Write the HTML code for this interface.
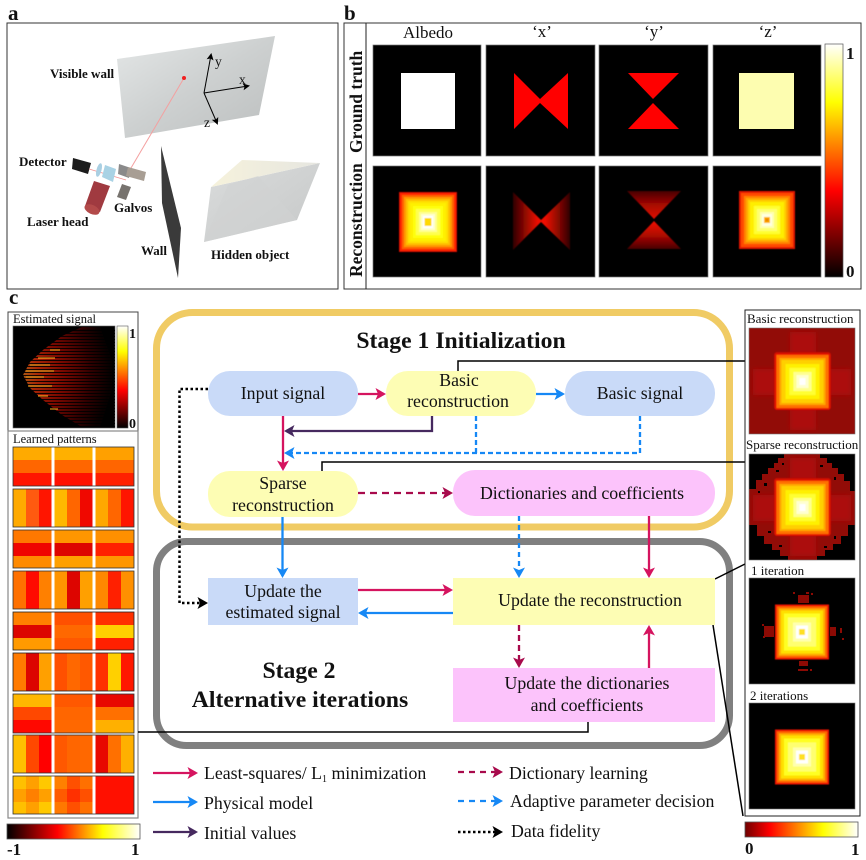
<!DOCTYPE html>
<html><head><meta charset="utf-8"><style>
html,body{margin:0;padding:0;background:#fff}
svg{display:block;filter:blur(.3px)}
text{font-family:"Liberation Serif",serif;fill:#111}
.b{font-weight:bold}
.a{font-weight:bold;font-size:13px}
.n{font-size:17.8px;text-anchor:middle}
.l{font-size:17.8px}
.s{font-size:12.5px}
.r{font-size:13px}
.t{font-weight:bold;font-size:23.7px;text-anchor:middle}
</style></head><body>
<svg width="866" height="860" viewBox="0 0 866 860" xmlns="http://www.w3.org/2000/svg">
<defs>
<filter id="bl" x="-20%" y="-20%" width="140%" height="140%"><feGaussianBlur stdDeviation=".6"/></filter>
<filter id="bl2" x="-20%" y="-20%" width="140%" height="140%"><feGaussianBlur stdDeviation="2.5"/></filter>
<linearGradient id="hotv" x1="0" y1="1" x2="0" y2="0"><stop offset="0" stop-color="#000"/><stop offset=".37" stop-color="#f00"/><stop offset=".75" stop-color="#ff0"/><stop offset="1" stop-color="#fff"/></linearGradient>
<linearGradient id="hotl" x1="0" y1="0" x2="1" y2="0"><stop offset="0" stop-color="#000"/><stop offset=".38" stop-color="#f00"/><stop offset=".72" stop-color="#ff0"/><stop offset="1" stop-color="#fff"/></linearGradient>
<linearGradient id="hotr" x1="0" y1="0" x2="1" y2="0"><stop offset="0" stop-color="#700000"/><stop offset=".22" stop-color="#f00"/><stop offset=".69" stop-color="#ff0"/><stop offset="1" stop-color="#fff"/></linearGradient>
<linearGradient id="wall" x1="0" y1="0" x2="1" y2="1"><stop offset="0" stop-color="#e4e7e7"/><stop offset=".5" stop-color="#cdd0d0"/><stop offset="1" stop-color="#bcbfbf"/></linearGradient>
<linearGradient id="hid" x1="0" y1="0" x2="1" y2="1"><stop offset="0" stop-color="#dadcdc"/><stop offset="1" stop-color="#c6c8c8"/></linearGradient>
<linearGradient id="crm" x1="0" y1="0" x2="1" y2="0"><stop offset="0" stop-color="#f6f2dc"/><stop offset="1" stop-color="#e6e6e0"/></linearGradient>
<radialGradient id="sig" gradientUnits="userSpaceOnUse" cx="15" cy="375" r="95"><stop offset="0" stop-color="#e09020"/><stop offset=".25" stop-color="#d83008"/><stop offset=".5" stop-color="#a00c00"/><stop offset=".8" stop-color="#400000"/><stop offset="1" stop-color="#0a0000"/></radialGradient>
<marker id="mr" markerUnits="userSpaceOnUse" markerWidth="15" markerHeight="15" refX="9.500" refY="7.500" orient="auto"><path d="M1,1.500L11.500,7.500L1,13.500L3.500,7.500z" fill="#d5145f"/></marker>
<marker id="mb" markerUnits="userSpaceOnUse" markerWidth="15" markerHeight="15" refX="9.500" refY="7.500" orient="auto"><path d="M1,1.500L11.500,7.500L1,13.500L3.500,7.500z" fill="#1688f5"/></marker>
<marker id="mp" markerUnits="userSpaceOnUse" markerWidth="15" markerHeight="15" refX="9.500" refY="7.500" orient="auto"><path d="M1,1.500L11.500,7.500L1,13.500L3.500,7.500z" fill="#46295f"/></marker>
<marker id="md" markerUnits="userSpaceOnUse" markerWidth="15" markerHeight="15" refX="9.500" refY="7.500" orient="auto"><path d="M1,1.500L11.500,7.500L1,13.500L3.500,7.500z" fill="#a80a4c"/></marker>
<marker id="mk" markerUnits="userSpaceOnUse" markerWidth="15" markerHeight="15" refX="9.500" refY="7.500" orient="auto"><path d="M1,1.500L11.500,7.500L1,13.500L3.500,7.500z" fill="#000"/></marker>
<marker id="ma" markerUnits="userSpaceOnUse" markerWidth="10" markerHeight="10" refX="6" refY="5" orient="auto"><path d="M1,1.500L8,5L1,8.500L2.500,5z" fill="#000"/></marker>
<g id="pyrA">
<rect x="-29" y="-30" width="58" height="60" fill="#d01000"/><rect x="-28" y="-29" width="56" height="58" fill="#ff2000"/>
<rect x="-26" y="-27" width="52" height="54" fill="#ff6000"/><rect x="-24" y="-25" width="48" height="50" fill="#ff9800"/>
<rect x="-22" y="-23" width="44" height="46" fill="#ffc000"/><rect x="-20" y="-21" width="40" height="42" fill="#ffe000"/>
<rect x="-18" y="-19" width="36" height="38" fill="#fff000"/><rect x="-15" y="-16" width="30" height="32" fill="#ffff10"/>
<rect x="-12" y="-13" width="24" height="26" fill="#ffff50"/><rect x="-9" y="-10" width="18" height="20" fill="#ffff90"/>
<rect x="-7" y="-8" width="14" height="16" fill="#ffffd0"/><rect x="-5" y="-6" width="10" height="12" fill="#fff"/>
<rect x="-3.500" y="-4" width="7" height="8" fill="#ffd800"/>
</g>
<g id="pyrB">
<rect x="-28" y="-29" width="56" height="58" fill="#e01800"/><rect x="-26" y="-27" width="52" height="54" fill="#ff4800"/>
<rect x="-23" y="-24" width="46" height="48" fill="#ff8000"/><rect x="-21" y="-22" width="42" height="44" fill="#ffa800"/>
<rect x="-19" y="-20" width="38" height="40" fill="#ffd000"/><rect x="-17" y="-18" width="34" height="36" fill="#ffee00"/>
<rect x="-13" y="-14" width="26" height="28" fill="#ffff30"/><rect x="-10" y="-11" width="20" height="22" fill="#ffff70"/>
<rect x="-7" y="-8" width="14" height="16" fill="#ffffb0"/><rect x="-5" y="-6" width="10" height="12" fill="#ffffe0"/>
<rect x="-3" y="-3" width="6" height="6" fill="#ffb000"/><rect x="-1.500" y="-1.500" width="3" height="3" fill="#f08000"/>
</g>
<g id="pyrC">
<rect x="-27.500" y="-28" width="55" height="56" rx="2" fill="#e81800"/><rect x="-26" y="-26.500" width="52" height="53" fill="#ff7000"/>
<rect x="-23" y="-23.500" width="46" height="47" fill="#ffa800"/><rect x="-21" y="-21.500" width="42" height="43" fill="#ffd000"/>
<rect x="-17" y="-17.500" width="34" height="35" fill="#fff000"/><rect x="-13" y="-13.500" width="26" height="27" fill="#ffff30"/>
<rect x="-9" y="-9.500" width="18" height="19" fill="#ffff90"/><rect x="-6" y="-6.500" width="12" height="13" fill="#ffffd0"/>
<rect x="-3" y="-3.500" width="6" height="7" fill="#fff"/>
</g>
<g id="pyrD">
<rect x="-27" y="-27.500" width="54" height="55" fill="#f01800"/><rect x="-25" y="-25.500" width="50" height="51" fill="#ff6a00"/>
<rect x="-23" y="-23.500" width="46" height="47" fill="#ffb000"/><rect x="-21" y="-21.500" width="42" height="43" fill="#ffe000"/>
<rect x="-18" y="-18.500" width="36" height="37" fill="#ffff20"/><rect x="-14" y="-14.500" width="28" height="29" fill="#ffff70"/>
<rect x="-9" y="-9.500" width="18" height="19" fill="#ffffb0"/><rect x="-6" y="-6.500" width="12" height="13" fill="#fff"/>
<rect x="-3" y="-3" width="6" height="6" fill="#ffe020"/>
</g>
<linearGradient id="xf" x1="0" y1="0" x2="1" y2="0"><stop offset="0" stop-color="#300000"/><stop offset=".44" stop-color="#f01000"/><stop offset=".56" stop-color="#f01000"/><stop offset="1" stop-color="#300000"/></linearGradient>
<linearGradient id="yt" x1="0" y1="0" x2="0" y2="1"><stop offset="0" stop-color="#480000"/><stop offset=".5" stop-color="#a80800"/><stop offset="1" stop-color="#e01000"/></linearGradient>
<linearGradient id="yb" x1="0" y1="1" x2="0" y2="0"><stop offset="0" stop-color="#480000"/><stop offset=".5" stop-color="#b00800"/><stop offset="1" stop-color="#f01000"/></linearGradient>
</defs>
<rect width="866" height="860" fill="#fff"/>

<!-- panel a -->
<text x="8" y="20" class="b" font-size="21">a</text>
<rect x="7" y="23" width="331" height="266" fill="#fff" stroke="#333"/>
<polygon points="117,59 275,36 259,115 125,138" fill="url(#wall)"/>
<line x1="184" y1="78" x2="131" y2="168" stroke="#f4a0a0" stroke-width="1"/>
<circle cx="184" cy="78" r="2" fill="#f02020"/>
<g stroke="#000" stroke-width="1" fill="none">
<line x1="204" y1="93" x2="211" y2="55" marker-end="url(#ma)"/>
<line x1="204" y1="93" x2="248" y2="86" marker-end="url(#ma)"/>
<line x1="204" y1="93" x2="217" y2="123" marker-end="url(#ma)"/>
</g>
<text x="215" y="66" font-size="13.5">y</text>
<text x="239" y="84" font-size="13.5">x</text>
<text x="204" y="127" font-size="13.5">z</text>
<text x="50" y="78" class="a">Visible wall</text>
<text x="19" y="166" class="a">Detector</text>
<text x="114" y="212" class="a">Galvos</text>
<text x="27" y="226" class="a">Laser head</text>
<text x="141" y="255" class="a">Wall</text>
<text x="211" y="259" class="a">Hidden object</text>
<polygon points="161,146 181,228 178,278 162,203" fill="#3a3a3a"/>
<polygon points="204,242 211,187 320,163 297,220" fill="url(#hid)"/>
<polygon points="211,187 242,160 320,163" fill="url(#crm)"/>
<polygon points="228,185 204,242 297,220 258,176" fill="#d0d2d2" opacity=".6"/>
<polygon points="73,158 91,163 88,174 72,169" fill="#1c1c1c"/>
<line x1="89" y1="169" x2="126" y2="180" stroke="#f09090" stroke-width=".7"/>
<ellipse cx="99" cy="170" rx="2.500" ry="7" fill="#a9cfe2" transform="rotate(15 99 170)"/>
<polygon points="105,165 116,169 113,182 102,177" fill="#a9d2e4"/>
<polygon points="119,164 131,168 129,178 118,174" fill="#8a8a8a"/>
<polygon points="128,167 146,172 144,181 126,176" fill="#a89e94"/>
<polygon points="122,184 131,187 126,200 117,197" fill="#77736e"/>
<polygon points="94,181 110,186 100,212 85,206" fill="#a03a40"/>
<ellipse cx="92" cy="209.500" rx="8" ry="4.500" fill="#b34a4a" transform="rotate(25 92 209.500)"/>

<!-- panel b -->
<text x="344" y="20" class="b" font-size="21">b</text>
<rect x="344" y="23" width="517" height="266" fill="#fff" stroke="#333"/>
<line x1="366" y1="23" x2="366" y2="289" stroke="#222"/>
<text x="428" y="38" font-size="17" text-anchor="middle">Albedo</text>
<text x="542" y="37" font-size="17" text-anchor="middle">‘x’</text>
<text x="654" y="37" font-size="17" text-anchor="middle">‘y’</text>
<text x="768" y="37" font-size="17" text-anchor="middle">‘z’</text>
<text transform="translate(362 153) rotate(-90)" class="b" font-size="17.5">Ground truth</text>
<text transform="translate(362 277) rotate(-90)" class="b" font-size="17.5">Reconstruction</text>
<g fill="#000" stroke="#777" stroke-width=".7">
<rect x="373" y="45" width="108" height="111"/><rect x="486" y="45" width="109" height="111"/><rect x="599" y="45" width="109" height="111"/><rect x="713" y="45" width="108" height="111"/>
<rect x="373" y="166" width="108" height="111"/><rect x="486" y="166" width="109" height="111"/><rect x="599" y="166" width="109" height="111"/><rect x="713" y="166" width="108" height="111"/>
</g>
<rect x="401" y="73" width="54" height="56" fill="#fff"/>
<polygon points="514,73 540,99 568,73 568,129 540,103 514,129" fill="#f00"/>
<polygon points="628,73 679,73 653,99" fill="#f00"/><polygon points="628,129 679,129 653,103" fill="#f00"/>
<rect x="739" y="73" width="55" height="56" fill="#fdfdb0"/>
<use href="#pyrA" x="428" y="222" filter="url(#bl)"/>
<use href="#pyrB" x="767" y="220" filter="url(#bl)"/>
<polygon points="513,192 541,220 570,192 570,250 541,222 513,250" fill="url(#xf)" filter="url(#bl)"/>
<polygon points="627,191 681,191 654,219" fill="url(#yt)" filter="url(#bl)"/>
<polygon points="627,249 681,249 654,221" fill="url(#yb)" filter="url(#bl)"/>
<rect x="825" y="44" width="18" height="233" fill="url(#hotv)" stroke="#555" stroke-width=".7"/>
<text x="846" y="59" class="b" font-size="17">1</text>
<text x="846" y="277" class="b" font-size="17">0</text>

<!-- panel c left -->
<text x="9" y="304" class="b" font-size="21">c</text>
<rect x="8" y="312" width="130" height="119" fill="#fff" stroke="#444"/>
<text x="13" y="323" class="s">Estimated signal</text>
<rect x="13" y="326" width="102" height="102" fill="#000" stroke="#666" stroke-width=".6"/>
<polygon points="82,327 62,336 43,350 30,362 23,375 30,388 43,400 62,415 82,427 100,427 112,390 112,360 100,327" fill="url(#sig)"/>
<g stroke="#000" stroke-width="1.500" opacity=".9">
<path d="M20,330.500H115M20,333.500H115M20,336.500H115M20,339.500H115M20,342.500H115M20,345.500H115M20,348.500H115M20,351.500H115M20,354.500H115M20,357.500H115M20,360.500H115M20,363.500H115M20,366.500H115M20,369.500H115M20,372.500H115M20,375.500H115M20,378.500H115M20,381.500H115M20,384.500H115M20,387.500H115M20,390.500H115M20,393.500H115M20,396.500H115M20,399.500H115M20,402.500H115M20,405.500H115M20,408.500H115M20,411.500H115M20,414.500H115M20,417.500H115M20,420.500H115M20,423.500H115M20,426.500H115"/>
</g>
<g stroke-width="1" stroke="#ffb020">
<line x1="50" y1="350" x2="60" y2="350"/><line x1="38" y1="358" x2="55" y2="358"/><line x1="30" y1="365" x2="50" y2="365"/><line x1="26" y1="371" x2="54" y2="371"/><line x1="26" y1="377" x2="44" y2="377"/><line x1="28" y1="386" x2="52" y2="386"/><line x1="38" y1="396" x2="48" y2="396"/><line x1="50" y1="409" x2="58" y2="409"/>
</g>
<rect x="117" y="326" width="11" height="102" fill="url(#hotv)" stroke="#555" stroke-width=".6"/>
<text x="129" y="338" class="b" font-size="14">1</text>
<text x="129" y="428" class="b" font-size="14">0</text>

<rect x="8" y="431" width="130" height="387" fill="#fff" stroke="#888" stroke-width="1.200"/>
<text x="13" y="443" class="s">Learned patterns</text>

<g transform="translate(13,447)"><path d="M0 0h39v13H0z" fill="#fa0"/><path d="M0 13h39v13H0z" fill="#f60"/><path d="M0 26h39v13H0z" fill="#ff1500"/><path d="M41 0h39v13H41z" fill="#ffb000"/><path d="M41 13h39v13H41z" fill="#f60"/><path d="M41 26h39v13H41z" fill="#f10"/><path d="M82 0h39v13H82z" fill="#ffa000"/><path d="M82 13h39v13H82z" fill="#ff6500"/><path d="M82 26h39v13H82z" fill="#ff2000"/><path d="M38.500 0h3v39h-3zM79.500 0h3v39h-3z" fill="#fff"/><rect width="121" height="39" fill="none" stroke="#333" stroke-width=".8"/></g>
<g transform="translate(13,489)"><rect x="0" width="13" height="38" fill="#fa0"/><rect x="13" width="13" height="38" fill="#ff5a10"/><rect x="26" width="13" height="38" fill="#ff1500"/><rect x="41" width="13" height="38" fill="#ffb800"/><rect x="54" width="13" height="38" fill="#f60"/><rect x="67" width="13" height="38" fill="#f00800"/><rect x="82" width="13" height="38" fill="#ffa800"/><rect x="95" width="13" height="38" fill="#f60"/><rect x="108" width="13" height="38" fill="#ff1500"/><path d="M38.500 0h3v38h-3zM79.500 0h3v38h-3z" fill="#fff"/><rect width="121" height="38" fill="none" stroke="#333" stroke-width=".8"/></g>
<g transform="translate(13,530)"><path d="M0 0h39v13H0z" fill="#ff7800"/><path d="M0 13h39v13H0z" fill="#ef0500"/><path d="M0 26h39v12H0z" fill="#ff8a00"/><path d="M41 0h39v13H41z" fill="#ff9600"/><path d="M41 13h39v13H41z" fill="#dd0500"/><path d="M41 26h39v12H41z" fill="#ffa000"/><path d="M82 0h39v13H82z" fill="#ff9000"/><path d="M82 13h39v13H82z" fill="#ff2000"/><path d="M82 26h39v12H82z" fill="#ff9600"/><path d="M38.500 0h3v38h-3zM79.500 0h3v38h-3z" fill="#fff"/><rect width="121" height="38" fill="none" stroke="#333" stroke-width=".8"/></g>
<g transform="translate(13,571)"><rect x="0" width="13" height="38" fill="#ff7000"/><rect x="13" width="13" height="38" fill="#ff0a00"/><rect x="26" width="13" height="38" fill="#ff8000"/><rect x="41" width="13" height="38" fill="#ff9400"/><rect x="54" width="13" height="38" fill="#dd0500"/><rect x="67" width="13" height="38" fill="#ffa000"/><rect x="82" width="13" height="38" fill="#ff8800"/><rect x="95" width="13" height="38" fill="#ff2000"/><rect x="108" width="13" height="38" fill="#ff9000"/><path d="M38.500 0h3v38h-3zM79.500 0h3v38h-3z" fill="#fff"/><rect width="121" height="38" fill="none" stroke="#333" stroke-width=".8"/></g>
<g transform="translate(13,612)"><path d="M0 0h39v13H0z" fill="#ff8000"/><path d="M0 13h39v13H0z" fill="#dc0500"/><path d="M0 26h39v12H0z" fill="#ff9a00"/><path d="M41 0h39v13H41z" fill="#ff5000"/><path d="M41 13h39v13H41z" fill="#ff6800"/><path d="M41 26h39v12H41z" fill="#ff5800"/><path d="M82 0h39v13H82z" fill="#ff3000"/><path d="M82 13h39v13H82z" fill="#ffd000"/><path d="M82 26h39v12H82z" fill="#ff2000"/><path d="M38.500 0h3v38h-3zM79.500 0h3v38h-3z" fill="#fff"/><rect width="121" height="38" fill="none" stroke="#222" stroke-width=".8"/></g>
<g transform="translate(13,653)"><rect x="0" width="13" height="38" fill="#ff7a00"/><rect x="13" width="13" height="38" fill="#dc0500"/><rect x="26" width="13" height="38" fill="#ffa000"/><rect x="41" width="13" height="38" fill="#ff5000"/><rect x="54" width="13" height="38" fill="#ff6800"/><rect x="67" width="13" height="38" fill="#ff5800"/><rect x="82" width="13" height="38" fill="#ff3000"/><rect x="95" width="13" height="38" fill="#ffd000"/><rect x="108" width="13" height="38" fill="#ff1800"/><path d="M38.500 0h3v38h-3zM79.500 0h3v38h-3z" fill="#fff"/><rect width="121" height="38" fill="none" stroke="#222" stroke-width=".8"/></g>
<g transform="translate(13,694)"><path d="M0 0h39v13H0z" fill="#ffb800"/><path d="M0 13h39v13H0z" fill="#ff4800"/><path d="M0 26h39v13H0z" fill="#ff0800"/><path d="M41 0h39v13H41z" fill="#ff5800"/><path d="M41 13h39v13H41z" fill="#f60"/><path d="M41 26h39v13H41z" fill="#ff6800"/><path d="M82 0h39v13H82z" fill="#e80800"/><path d="M82 13h39v13H82z" fill="#ff7000"/><path d="M82 26h39v13H82z" fill="#ffb000"/><path d="M38.500 0h3v39h-3zM79.500 0h3v39h-3z" fill="#fff"/><rect width="121" height="39" fill="none" stroke="#333" stroke-width=".8"/></g>
<g transform="translate(13,735)"><rect x="0" width="13" height="38" fill="#ffbf00"/><rect x="13" width="13" height="38" fill="#ff4800"/><rect x="26" width="13" height="38" fill="#f00"/><rect x="41" width="13" height="38" fill="#ff5800"/><rect x="54" width="13" height="38" fill="#f60"/><rect x="67" width="13" height="38" fill="#ff6800"/><rect x="82" width="13" height="38" fill="#e80800"/><rect x="95" width="13" height="38" fill="#ff7000"/><rect x="108" width="13" height="38" fill="#ffb000"/><path d="M38.500 0h3v38h-3zM79.500 0h3v38h-3z" fill="#fff"/><rect width="121" height="38" fill="none" stroke="#333" stroke-width=".8"/></g>
<g transform="translate(13,776)">
<rect x="0" y="0" width="13" height="13" fill="#ffc000"/><rect x="13" y="0" width="13" height="13" fill="#ffa000"/><rect x="26" y="0" width="13" height="13" fill="#ffc800"/>
<rect x="0" y="13" width="13" height="13" fill="#ffa000"/><rect x="13" y="13" width="13" height="13" fill="#ff8000"/><rect x="26" y="13" width="13" height="13" fill="#ffa000"/>
<rect x="0" y="26" width="13" height="12" fill="#ffc000"/><rect x="13" y="26" width="13" height="12" fill="#ffa000"/><rect x="26" y="26" width="13" height="12" fill="#ffc800"/>
<rect x="41" y="0" width="13" height="13" fill="#ff8000"/><rect x="54" y="0" width="13" height="13" fill="#ff5000"/><rect x="67" y="0" width="13" height="13" fill="#ff7000"/>
<rect x="41" y="13" width="13" height="13" fill="#ff5a00"/><rect x="54" y="13" width="13" height="13" fill="#ff3000"/><rect x="67" y="13" width="13" height="13" fill="#ff5000"/>
<rect x="41" y="26" width="13" height="12" fill="#ff7800"/><rect x="54" y="26" width="13" height="12" fill="#ff5000"/><rect x="67" y="26" width="13" height="12" fill="#ff7000"/>
<rect x="82" y="0" width="39" height="38" fill="#ff1000"/>
<path d="M38.500 0h3v38h-3zM79.500 0h3v38h-3z" fill="#fff"/><rect width="121" height="38" fill="none" stroke="#333" stroke-width=".8"/></g>

<rect x="7" y="824" width="133" height="15" fill="url(#hotl)" stroke="#555" stroke-width=".8"/>
<text x="7" y="855" class="b" font-size="17">-1</text>
<text x="131" y="855" class="b" font-size="17">1</text>

<!-- stage frames -->
<rect x="156.500" y="312.500" width="573" height="214.500" rx="36" fill="none" stroke="#f0cb64" stroke-width="7"/>
<rect x="156.500" y="541.500" width="573" height="204" rx="30" fill="none" stroke="#808080" stroke-width="7"/>

<text x="461" y="348" class="t">Stage 1 Initialization</text>
<text x="299" y="678" class="t">Stage 2</text>
<text x="300" y="707" class="t">Alternative iterations</text>

<!-- connector black -->
<g fill="none" stroke="#000" stroke-width="1.500">
<path d="M458 371V361H746"/>
<path d="M322 471V462H746"/>
<path d="M715 579L745 564"/>
<path d="M713 625L743 816"/>
<path d="M588 722V732H138"/>
</g>

<!-- nodes -->
<rect x="208" y="371" width="150" height="45" rx="22" fill="#c9daf8"/>
<rect x="386" y="371" width="150" height="45" rx="22" fill="#fdfdb4"/>
<rect x="565" y="371" width="150" height="45" rx="22" fill="#c9daf8"/>
<rect x="208" y="471" width="150" height="46" rx="22" fill="#fdfdb4"/>
<rect x="453" y="470" width="262" height="46" rx="22" fill="#fcc3fb"/>
<rect x="208" y="578" width="150" height="47" fill="#c9daf8"/>
<rect x="453" y="578" width="262" height="47" fill="#fdfdb4"/>
<rect x="453" y="668" width="262" height="54" fill="#fcc3fb"/>

<text x="283" y="399" class="n">Input signal</text>
<text x="459" y="386" class="n">Basic</text>
<text x="458" y="407" class="n">reconstruction</text>
<text x="640" y="399" class="n">Basic signal</text>
<text x="283" y="489" class="n">Sparse</text>
<text x="283" y="511" class="n">reconstruction</text>
<text x="582" y="499" class="n">Dictionaries and coefficients</text>
<text x="283" y="597" class="n">Update the</text>
<text x="283" y="618" class="n">estimated signal</text>
<text x="590" y="606" class="n">Update the reconstruction</text>
<text x="587" y="689" class="n">Update the dictionaries</text>
<text x="587" y="711" class="n">and coefficients</text>

<!-- arrows -->
<g fill="none" stroke-width="2.300">
<path d="M358 394H384" stroke="#d5145f" marker-end="url(#mr)"/>
<path d="M536 394H563" stroke="#1688f5" marker-end="url(#mb)"/>
<path d="M283 416V469" stroke="#d5145f" marker-end="url(#mr)"/>
<path d="M432 416V431H286" stroke="#46295f" marker-end="url(#mp)"/>
<path d="M476 416V453" stroke="#1688f5" stroke-dasharray="5 3"/>
<path d="M640 416V453H286" stroke="#1688f5" stroke-dasharray="5 3" marker-end="url(#mb)"/>
<path d="M358 493H451" stroke="#a80a4c" stroke-dasharray="7 5" marker-end="url(#md)"/>
<path d="M282.500 517V576" stroke="#1688f5" marker-end="url(#mb)"/>
<path d="M519 516V576" stroke="#1688f5" stroke-dasharray="5 4" marker-end="url(#mb)"/>
<path d="M649 516V576" stroke="#d5145f" marker-end="url(#mr)"/>
<path d="M358 590H451" stroke="#d5145f" marker-end="url(#mr)"/>
<path d="M453 613H360" stroke="#1688f5" marker-end="url(#mb)"/>
<path d="M519 625V666" stroke="#a80a4c" stroke-dasharray="6 4" marker-end="url(#md)"/>
<path d="M649 668V627" stroke="#d5145f" marker-end="url(#mr)"/>
<path d="M208 389H179.500V603H206" stroke="#000" stroke-dasharray="2.500 2.500" stroke-width="2.500" marker-end="url(#mk)"/>
</g>

<!-- legend -->
<g fill="none" stroke-width="2.300">
<path d="M153 773H196" stroke="#d5145f" marker-end="url(#mr)"/>
<path d="M153 802H196" stroke="#1688f5" marker-end="url(#mb)"/>
<path d="M153 832H196" stroke="#46295f" marker-end="url(#mp)"/>
<path d="M458 772H501" stroke="#a80a4c" stroke-dasharray="6 5" marker-end="url(#md)"/>
<path d="M458 801H501" stroke="#1688f5" stroke-dasharray="6 5" marker-end="url(#mb)"/>
<path d="M458 832H501" stroke="#000" stroke-dasharray="2.500 2.500" stroke-width="2.500" marker-end="url(#mk)"/>
</g>
<text x="204" y="779" class="l">Least-squares/ L<tspan font-size="10" dy="3">1</tspan><tspan dy="-3"> minimization</tspan></text>
<text x="204" y="809" class="l">Physical model</text>
<text x="204" y="839" class="l">Initial values</text>
<text x="509" y="779" class="l">Dictionary learning</text>
<text x="510" y="807" class="l">Adaptive parameter decision</text>
<text x="511" y="837" class="l">Data fidelity</text>

<!-- right column -->
<rect x="745" y="310" width="115" height="506" fill="#fff" stroke="#222"/>
<text x="747" y="323" class="r">Basic reconstruction</text>
<text x="746" y="449" class="r">Sparse reconstruction</text>
<text x="751" y="575" class="r">1 iteration</text>
<text x="750" y="700" class="r">2 iterations</text>

<g>
<rect x="749" y="328" width="106" height="106" fill="#920c07"/>
<rect x="790" y="332" width="26" height="98" fill="#ac1008" filter="url(#bl2)"/>
<rect x="753" y="369" width="98" height="26" fill="#ac1008" filter="url(#bl2)"/>
<rect x="774" y="352" width="57" height="58" rx="3" fill="#c81000" filter="url(#bl)"/>
<use href="#pyrC" x="802.500" y="381.500" filter="url(#bl)"/>
<rect x="749" y="328" width="106" height="106" fill="none" stroke="#777" stroke-width=".6"/>
</g>
<g>
<rect x="749" y="454" width="106" height="106" fill="#920c07"/>
<rect x="790" y="458" width="26" height="98" fill="#ac1008" filter="url(#bl2)"/>
<rect x="753" y="495" width="98" height="26" fill="#ac1008" filter="url(#bl2)"/>
<polygon points="749,454 784,454 784,458 778,458 778,463 774,463 774,468 768,468 768,474 762,474 762,480 756,480 756,489 749,489" fill="#000"/>
<polygon points="855,454 820,454 820,458 827,458 827,463 832,463 832,468 838,468 838,474 844,474 844,481 850,481 850,491 855,491" fill="#000"/>
<polygon points="749,560 788,560 788,556 780,556 780,550 772,550 772,544 764,544 764,536 757,536 757,525 749,525" fill="#000"/>
<polygon points="855,560 817,560 817,556 825,556 825,550 833,550 833,544 841,544 841,536 848,536 848,525 855,525" fill="#000"/>
<g fill="#000"><rect x="776" y="470" width="3" height="2"/><rect x="764" y="483" width="3" height="3"/><rect x="834" y="477" width="2" height="3"/><rect x="768" y="531" width="3" height="2"/><rect x="834" y="536" width="2" height="3"/><rect x="758" y="491" width="2" height="2"/><rect x="782" y="463" width="2" height="2"/><rect x="820" y="465" width="3" height="2"/><rect x="779" y="545" width="3" height="2"/><rect x="824" y="546" width="3" height="2"/></g>
<rect x="774" y="478" width="57" height="58" rx="3" fill="#c81000" filter="url(#bl)"/>
<use href="#pyrC" x="802.500" y="507.500" filter="url(#bl)"/>
<rect x="749" y="454" width="106" height="106" fill="none" stroke="#777" stroke-width=".6"/>
</g>
<g>
<rect x="749" y="578" width="106" height="106" fill="#000" stroke="#777" stroke-width=".6"/>
<g fill="#8c0a04">
<rect x="798" y="595" width="11" height="8"/><rect x="793" y="592" width="2" height="2"/><rect x="806" y="592" width="3" height="2"/><rect x="811" y="593" width="2" height="2"/>
<rect x="764" y="626" width="10" height="11"/><rect x="762" y="624" width="2" height="2"/><rect x="763" y="636" width="2" height="2"/>
<rect x="830" y="627" width="6" height="9"/><rect x="840" y="628" width="2" height="5"/><rect x="842" y="638" width="2" height="2"/>
<rect x="799" y="661" width="9" height="5"/><rect x="798" y="669" width="10" height="2"/><rect x="810" y="669" width="2" height="2"/>
</g>
<use href="#pyrD" x="802" y="632" filter="url(#bl)"/>
</g>
<g>
<rect x="749" y="703" width="106" height="106" fill="#000" stroke="#777" stroke-width=".6"/>
<use href="#pyrD" x="802" y="757" filter="url(#bl)"/>
</g>
<rect x="745" y="822" width="113" height="15" fill="url(#hotr)" stroke="#555" stroke-width=".8"/>
<text x="745" y="854" class="b" font-size="17">0</text>
<text x="851" y="855" class="b" font-size="17">1</text>
</svg>
</body></html>
